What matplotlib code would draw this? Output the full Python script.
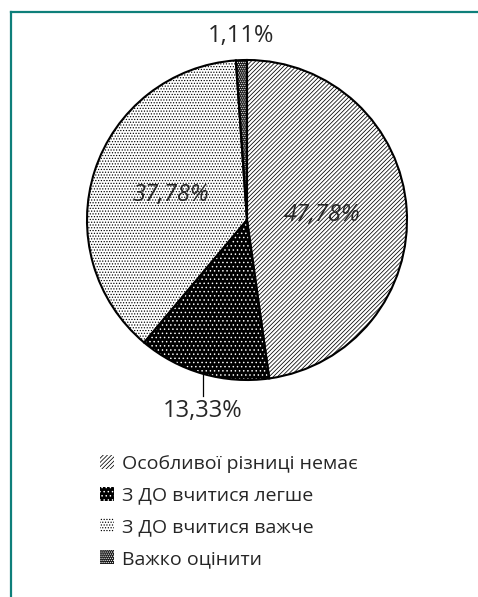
import numpy as np
import matplotlib
matplotlib.use("Agg")
import matplotlib.pyplot as plt
from matplotlib.lines import Line2D

plt.rcParams['font.family'] = ['Open Sans', 'DejaVu Sans']
plt.rcParams['hatch.linewidth'] = 0.55

categories = ["Особливої різниці немає", "З ДО вчитися легше", "З ДО вчитися важче", "Важко оцінити"]
values = [47.78, 13.33, 37.78, 1.11]
value_labels = ["47,78%", "13,33%", "37,78%", "1,11%"]

face_colors = ["white", "black", "white", "#1a1a1a"]
hatch_colors = ["black", "white", "black", "white"]
hatches = ["////////", "....", "......", "........"]
label_dist = [0.47, 1.22, 0.50, 1.13]
label_style = ["italic", "normal", "italic", "normal"]
text_color = "#262626"

W, H = 478, 597
fig = plt.figure(figsize=(W / 100, H / 100), dpi=100)

cx, cy, r = 247, 220, 160
ax = fig.add_axes([(cx - r) / W, 1 - (cy + r) / H, 2 * r / W, 2 * r / H])

wedges, _ = ax.pie(values, startangle=90, counterclock=False, colors=face_colors,
                   hatch=hatches, radius=1, wedgeprops=dict(linewidth=0))
for w, hc in zip(wedges, hatch_colors):
    w.set_edgecolor(hc)
    w.set_linewidth(0)

ax.pie(values, startangle=90, counterclock=False, radius=1,
       wedgeprops=dict(fill=False, edgecolor="black", linewidth=1.5))
ax.set_xlim(-1, 1)
ax.set_ylim(-1, 1)
ax.set_aspect('equal')
ax.axis('off')

total = sum(values)
cum = np.cumsum([0] + values)
for i, lab in enumerate(value_labels):
    mid = (cum[i] + cum[i + 1]) / 2 / total * 360
    ang = np.deg2rad(90 - mid)
    d = label_dist[i]
    x, y = d * np.cos(ang), d * np.sin(ang)
    if i == 1:
        ex, ey = np.cos(ang), np.sin(ang)
        ax.plot([ex, ex], [ey, ey - 0.14], color="black", lw=0.9, clip_on=False)
        x = ex
        y = ey - 0.235
    if i == 3:
        y += 0.02
    ax.text(x, y, lab, ha='center', va='center', fontsize=17, style=label_style[i],
            color=text_color, clip_on=False)

leg = fig.legend(wedges, categories, loc='upper left',
                 bbox_to_anchor=(100 / W, 1 - 455 / H), frameon=False,
                 fontsize=14, handlelength=0.72, handleheight=0.72,
                 handletextpad=0.4, labelspacing=0.70, borderpad=0, borderaxespad=0)
for t in leg.get_texts():
    t.set_color(text_color)

teal = "#0e7f7a"
fig.add_artist(Line2D([11 / W, 1], [1 - 12 / H, 1 - 12 / H], color=teal, lw=1.6,
                      transform=fig.transFigure))
fig.add_artist(Line2D([11 / W, 11 / W], [0, 1 - 12 / H], color=teal, lw=1.6,
                      transform=fig.transFigure))

fig.savefig("out.png", dpi=100)
